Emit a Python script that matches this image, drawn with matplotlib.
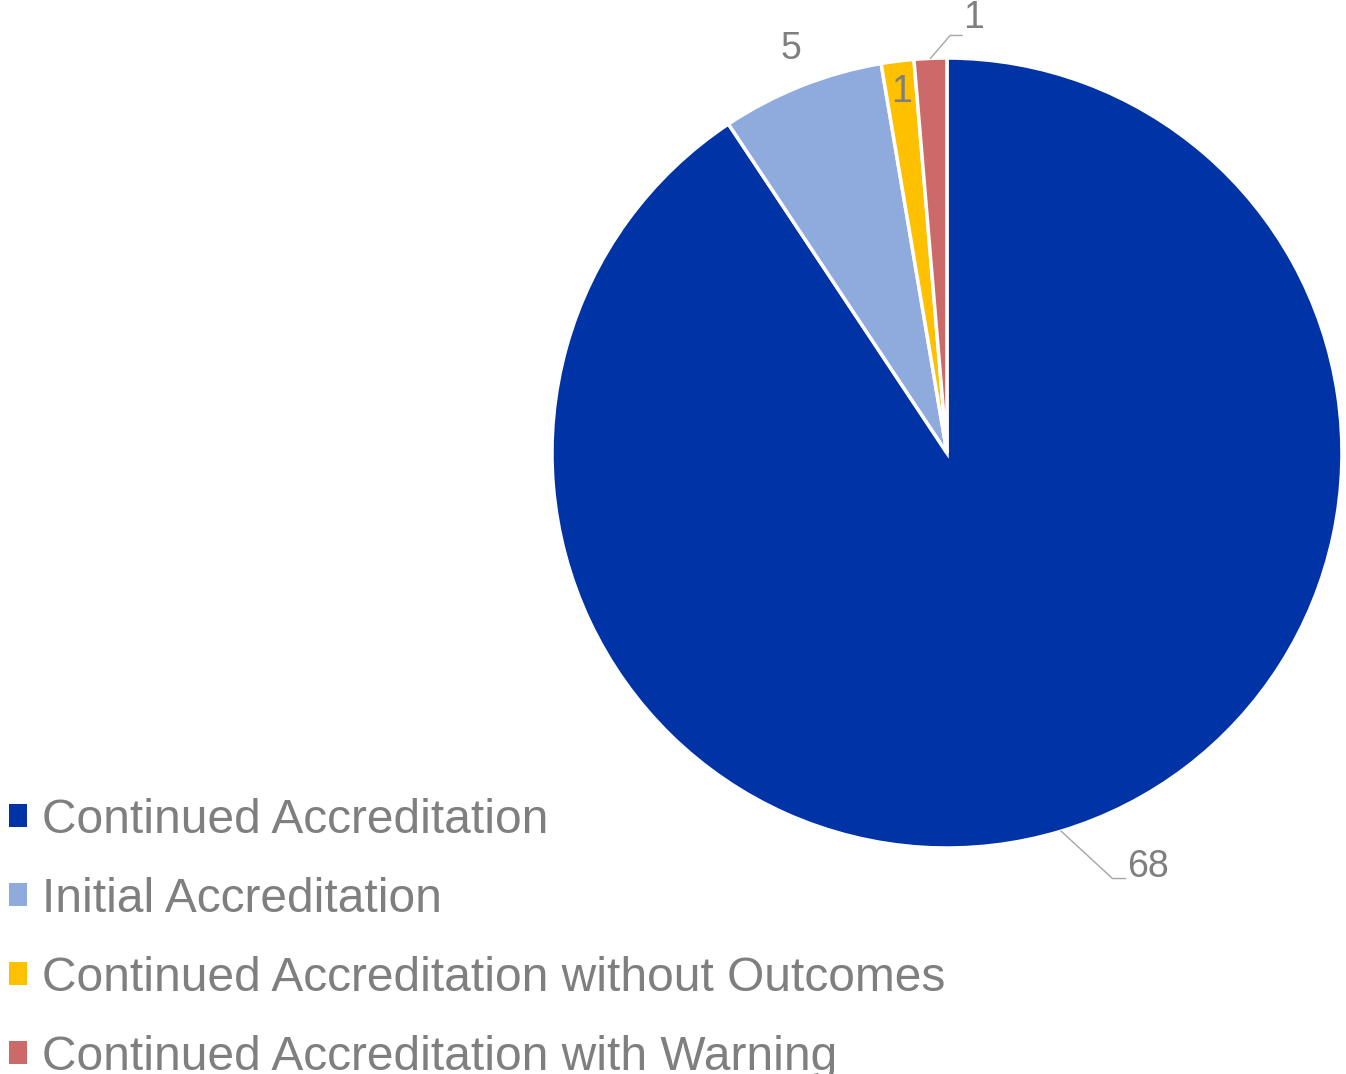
import numpy as np
import matplotlib
matplotlib.use("Agg")
import matplotlib.pyplot as plt

plt.rcParams['font.family'] = ['Liberation Sans', 'DejaVu Sans']

# Datos del gráfico
categorias = ['Continued Accreditation', 'Initial Accreditation',
              'Continued Accreditation without Outcomes',
              'Continued Accreditation with Warning']
valores = [68, 5, 1, 1]
colores = ['#0033A6', '#8FAADC', '#FFC000', '#CC6A6A']

gris = '#7F7F7F'
tam = 27

fig = plt.figure(figsize=(13.46, 10.74), dpi=100)
ax = fig.add_axes([0.4101, 0.2104, 0.5869, 0.7356])

wedges, _ = ax.pie(valores, colors=colores, startangle=90, counterclock=False,
                   radius=1.0, wedgeprops=dict(edgecolor='white', linewidth=2.5))
ax.set_xlim(-1, 1)
ax.set_ylim(-1, 1)
ax.set_aspect('equal')
ax.axis('off')

# Etiquetas de datos, colocadas según el ángulo medio de cada porción
for i, (w, v) in enumerate(zip(wedges, valores)):
    ang = np.deg2rad((w.theta1 + w.theta2) / 2)
    cx, cy = np.cos(ang), np.sin(ang)
    if i == 0:
        # etiqueta con línea guía
        codo = (cx + 0.13, cy - 0.12)
        ax.plot([cx, codo[0], codo[0] + 0.033], [cy, codo[1], codo[1]],
                color='#A6A6A6', lw=1, clip_on=False)
        ax.text(codo[0] + 0.038, codo[1] + 0.03, str(v), fontsize=tam,
                color=gris, ha='left', va='center')
    elif i == 1:
        ax.text(1.1 * cx + 0.01, 1.1 * cy, str(v), fontsize=tam, color=gris,
                ha='center', va='center')
    elif i == 2:
        ax.text(0.92 * cx, 0.92 * cy, str(v), fontsize=tam, color=gris,
                ha='center', va='center')
    else:
        codo = (cx + 0.05, cy + 0.058)
        ax.plot([cx, codo[0], codo[0] + 0.03], [cy, codo[1], codo[1]],
                color='#A6A6A6', lw=1, clip_on=False)
        ax.text(codo[0] + 0.033, codo[1] + 0.045, str(v), fontsize=tam,
                color=gris, ha='left', va='center')

leg = fig.legend(wedges, categorias, loc='upper left',
                 bbox_to_anchor=(0.0066, 0.257), frameon=False,
                 fontsize=34.5, handlelength=0.37, handleheight=0.37,
                 handletextpad=0.32, labelspacing=0.708, borderpad=0,
                 borderaxespad=0)
for t in leg.get_texts():
    t.set_color(gris)
for h in leg.legend_handles:
    h.set_linewidth(0)

plt.savefig('out.png', dpi=100)
